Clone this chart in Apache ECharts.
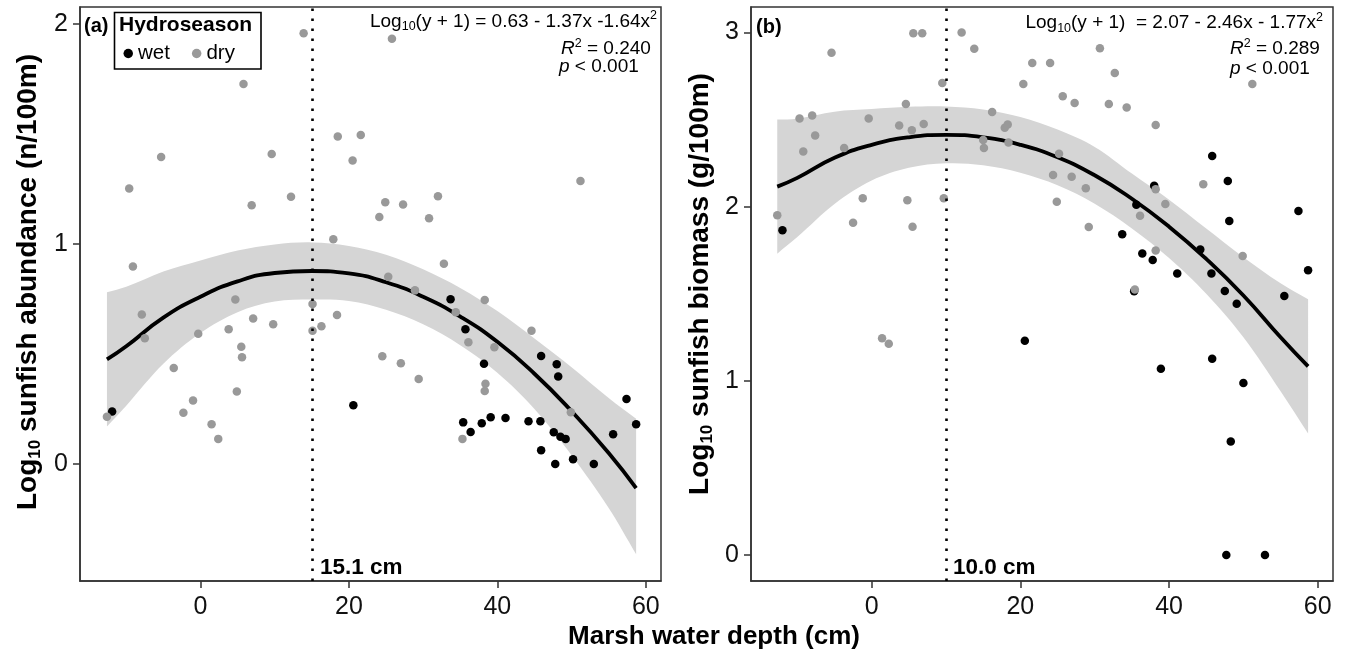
<!DOCTYPE html>
<html><head><meta charset="utf-8">
<script src="https://cdn.jsdelivr.net/npm/echarts@6/dist/echarts.min.js"></script>
<style>html,body{margin:0;padding:0;background:#fff}#c{width:1345px;height:657px}</style>
</head><body><div id="c"></div><script>
const FONT = '"Liberation Sans", Arial, Helvetica, sans-serif';

// ---- tick labels ----
const xTicks = [0, 20, 40, 60];
const yTicksA = [0, 1, 2];
const yTicksB = [0, 1, 2, 3];

// ---- panel (a): abundance ----
const wetA = [[-11.9,0.238],[20.6,0.267],[33.7,0.749],[35.7,0.612],[38.2,0.455],[35.4,0.189],[36.4,0.145],
  [37.9,0.185],[39.1,0.212],[41.1,0.209],[44.2,0.194],[45.8,0.194],[45.9,0.491],[48.0,0.453],[48.2,0.398],
  [47.6,0.144],[48.5,0.124],[49.2,0.114],[45.9,0.062],[47.8,0.0],[50.2,0.021],[53.0,0.0],[55.6,0.135],
  [57.4,0.295],[58.7,0.180]];
const dryA = [[13.9,1.958],[25.8,1.933],[5.8,1.727],[-5.3,1.395],[9.6,1.409],[18.5,1.488],[21.6,1.495],
  [20.5,1.379],[-9.6,1.252],[6.9,1.176],[12.2,1.214],[24.9,1.189],[27.3,1.179],[24.1,1.123],[30.8,1.117],
  [32.0,1.217],[17.9,1.021],[-9.1,0.898],[32.8,0.910],[25.3,0.851],[28.9,0.789],[4.7,0.748],[-7.9,0.679],
  [15.1,0.727],[18.4,0.677],[7.1,0.661],[9.8,0.635],[16.3,0.626],[3.8,0.612],[51.2,1.286],[34.4,0.690],
  [38.3,0.745],[44.6,0.605],[-7.5,0.571],[-12.6,0.215],[-3.6,0.436],[-0.3,0.592],[-1.0,0.288],[-2.3,0.233],
  [1.5,0.180],[2.4,0.114],[5.5,0.533],[5.6,0.485],[4.9,0.329],[15.1,0.606],[24.5,0.490],[27.0,0.458],
  [29.4,0.386],[36.1,0.553],[39.6,0.530],[38.4,0.365],[38.3,0.332],[35.3,0.114],[49.9,0.235]];
const fitXA  = [-12.6,-10,-5,0,5,10,15,20,25,30,35,40,45,50,55,58.7];
const fitYA  = [0.475,0.535,0.665,0.76,0.83,0.868,0.877,0.866,0.826,0.76,0.67,0.555,0.41,0.24,0.05,-0.11];
const bandLoA = [0.17,0.265,0.455,0.595,0.69,0.738,0.747,0.741,0.701,0.635,0.54,0.415,0.25,0.04,-0.20,-0.41];
const bandHiA = [0.78,0.805,0.875,0.925,0.97,0.998,1.007,0.991,0.951,0.885,0.80,0.695,0.57,0.44,0.30,0.205];

// ---- panel (b): biomass ----
const wetB = [[-12.0,1.865],[45.8,2.291],[47.9,2.147],[38.0,2.120],[57.4,1.975],[48.1,1.917],[35.6,2.011],
  [33.7,1.841],[36.4,1.731],[37.8,1.693],[41.1,1.616],[44.2,1.754],[45.7,1.616],[58.7,1.635],[35.3,1.515],
  [47.5,1.516],[55.5,1.487],[49.1,1.443],[20.6,1.230],[45.8,1.127],[38.9,1.069],[50.0,0.988],[48.3,0.652],
  [47.7,0.0],[52.9,0.0]];
const dryB = [[5.6,2.995],[6.8,2.995],[12.1,2.999],[-5.4,2.884],[13.8,2.907],[9.5,2.710],[20.4,2.704],
  [4.6,2.589],[-9.7,2.506],[-8.0,2.523],[-0.4,2.506],[3.7,2.466],[5.4,2.439],[7.0,2.474],[16.2,2.543],
  [17.9,2.453],[18.3,2.472],[-7.6,2.408],[-9.2,2.316],[-3.7,2.337],[15.0,2.382],[15.1,2.336],[18.4,2.368],
  [-12.7,1.950],[-1.2,2.048],[-2.5,1.907],[4.8,2.036],[5.5,1.884],[9.7,2.048],[30.7,2.909],[21.6,2.825],
  [24.0,2.825],[32.7,2.767],[51.2,2.704],[25.7,2.633],[27.3,2.595],[31.9,2.589],[34.3,2.569],[38.2,2.468],
  [25.2,2.303],[24.4,2.182],[26.9,2.172],[28.8,2.105],[24.9,2.028],[29.2,1.883],[38.2,2.100],[44.6,2.128],
  [39.5,2.015],[36.1,1.948],[38.2,1.748],[49.9,1.717],[35.4,1.525],[1.4,1.245],[2.3,1.213]];
const fitXB  = [-12.7,-10,-5,0,5,10,15,20,25,30,35,40,45,50,55,58.7];
const fitYB  = [2.115,2.165,2.28,2.355,2.398,2.412,2.398,2.355,2.283,2.18,2.045,1.885,1.70,1.49,1.25,1.083];
const bandLoB = [1.73,1.825,2.015,2.15,2.223,2.249,2.238,2.195,2.123,2.017,1.875,1.705,1.50,1.25,0.94,0.698];
const bandHiB = [2.50,2.505,2.545,2.56,2.573,2.575,2.558,2.515,2.443,2.343,2.19,2.04,1.875,1.71,1.56,1.468];

const optimumA = 15.1, optimumB = 10.0;

const AX = '#333';
function xAxis(gi) {
  return { type: 'value', gridIndex: gi, min: -16.23, max: 62.05,
    axisLine: { show: true, onZero: false, lineStyle: { color: AX, width: 1.5 } },
    axisTick: { show: true, customValues: xTicks, length: 7, lineStyle: { color: AX, width: 1.5 } },
    axisLabel: { customValues: xTicks, fontSize: 25, color: '#111', fontFamily: FONT, margin: 14 },
    splitLine: { show: false } };
}
function yAxis(gi, min, max, ticks) {
  return { type: 'value', gridIndex: gi, min: min, max: max,
    axisLine: { show: true, onZero: false, lineStyle: { color: AX, width: 1.5 } },
    axisTick: { show: true, customValues: ticks, length: 7, lineStyle: { color: AX, width: 1.5 } },
    axisLabel: { customValues: ticks, fontSize: 25, color: '#111', fontFamily: FONT, margin: 12 },
    splitLine: { show: false } };
}
function bandSeries(gi, xs, lo, hi) {
  return { type: 'custom', xAxisIndex: gi, yAxisIndex: gi, z: 1, silent: true,
    data: xs.map((x, i) => [x, lo[i], hi[i]]),
    encode: { x: 0, y: [1, 2] },
    renderItem: function (params, api) {
      if (params.dataIndex !== 0) return;
      const n = xs.length;
      const up = xs.map((x, i) => api.coord([x, hi[i]]));
      const dn = xs.map((x, i) => api.coord([x, lo[i]])).reverse();
      const p = [up[0], up[0]].concat(up.slice(1, n - 1), [up[n - 1], up[n - 1]],
                [dn[0], dn[0]], dn.slice(1, n - 1), [dn[n - 1], dn[n - 1]]);
      return { type: 'polygon', shape: { points: p, smooth: 0.35 }, style: { fill: '#d5d5d5', stroke: null } };
    } };
}
function fitSeries(gi, xs, ys) {
  return { type: 'line', xAxisIndex: gi, yAxisIndex: gi, smooth: true, symbol: 'none', z: 2, silent: true,
    lineStyle: { color: '#000', width: 3.8 }, data: xs.map((x, i) => [x, ys[i]]) };
}
function pts(gi, name, data, color, opt) {
  return { type: 'scatter', name: name, xAxisIndex: gi, yAxisIndex: gi, symbol: 'circle', symbolSize: 8.5,
    z: name === 'wet' ? 3 : 4, itemStyle: { color: color, opacity: 1 }, data: data,
    markLine: opt === undefined ? undefined : {
      silent: true, symbol: 'none', animation: false,
      lineStyle: { color: '#000', width: 2.6, type: [2.6, 7.4] },
      label: { show: false }, data: [{ xAxis: opt }] } };
}

const eqRich = {
  n: { fontSize: 19, fontFamily: FONT, color: '#111', lineHeight: 24 },
  i: { fontSize: 19, fontFamily: FONT, color: '#111', lineHeight: 24, fontStyle: 'italic' },
  sub: { fontSize: 12.5, fontFamily: FONT, color: '#111', lineHeight: 12.5, verticalAlign: 'bottom' },
  sup: { fontSize: 12.5, fontFamily: FONT, color: '#111', lineHeight: 12.5, verticalAlign: 'top' }
};
const ttlRich = {
  n: { fontSize: 28, fontWeight: 'bold', fontFamily: FONT, color: '#000', lineHeight: 32 },
  sub: { fontSize: 17, fontWeight: 'bold', fontFamily: FONT, color: '#000', lineHeight: 17, verticalAlign: 'bottom' }
};
function txt(x, y, text, rich, align) {
  return { type: 'text', silent: true, z: 50,
    style: { x: x, y: y, text: text, rich: rich, textAlign: align || 'left', textVerticalAlign: 'top' } };
}
// place plain text by its baseline
function plain(x, base, text, fs, bold, align) {
  return { type: 'text', silent: true, z: 50,
    style: { x: x, y: base - 0.85 * fs, text: text, font: (bold ? 'bold ' : '') + fs + 'px ' + FONT,
      fill: '#000', textAlign: align || 'left', textVerticalAlign: 'top' } };
}

const chart = echarts.init(document.getElementById('c'), null, { renderer: 'canvas' });
chart.setOption({
  animation: false,
  backgroundColor: '#fff',
  grid: [
    { left: 80, top: 7, width: 581, height: 574, show: true, borderColor: AX, borderWidth: 1.5, backgroundColor: 'transparent' },
    { left: 751, top: 7, width: 582, height: 574, show: true, borderColor: AX, borderWidth: 1.5, backgroundColor: 'transparent' }
  ],
  xAxis: [xAxis(0), xAxis(1)],
  yAxis: [yAxis(0, -0.532, 2.077, yTicksA), yAxis(1, -0.149, 3.146, yTicksB)],
  legend: { data: ['wet', 'dry'], left: 123.5, top: 43, z: 60, padding: 0, itemWidth: 9.5, itemHeight: 9.5, itemGap: 22,
    icon: 'circle', selectedMode: false,
    textStyle: { fontSize: 20.5, color: '#000', fontFamily: FONT } },
  series: [
    bandSeries(0, fitXA, bandLoA, bandHiA),
    fitSeries(0, fitXA, fitYA), pts(0, 'wet', wetA, '#000'), pts(0, 'dry', dryA, '#999999', optimumA),
    bandSeries(1, fitXB, bandLoB, bandHiB),
    fitSeries(1, fitXB, fitYB), pts(1, 'wet', wetB, '#000'), pts(1, 'dry', dryB, '#999999', optimumB)
  ],
  graphic: [
    { type: 'rect', silent: true, z: 40, shape: { x: 114.5, y: 12.5, width: 146.5, height: 56.5 },
      style: { fill: '#fff', stroke: '#000', lineWidth: 1.6 } },
    plain(119, 33, 'Hydroseason', 21, true),
    plain(84, 33, '(a)', 20, true),
    plain(756, 34, '(b)', 20, true),
    plain(320, 575, '15.1 cm', 22.5, true),
    plain(953, 575, '10.0 cm', 22.5, true),
    txt(657, 9.5, '{n|Log}{sub|10}{n|(y + 1) = 0.63 - 1.37x -1.64x}{sup|2}', eqRich, 'right'),
    txt(561, 37, '{i|R}{sup|2}{n| = 0.240}', eqRich, 'left'),
    txt(559, 55, '{i|p}{n| < 0.001}', eqRich, 'left'),
    txt(1323, 11, '{n|Log}{sub|10}{n|(y + 1)  = 2.07 - 2.46x - 1.77x}{sup|2}', eqRich, 'right'),
    txt(1230, 37, '{i|R}{sup|2}{n| = 0.289}', eqRich, 'left'),
    txt(1230, 57, '{i|p}{n| < 0.001}', eqRich, 'left'),
    { type: 'text', silent: true, z: 50, x: 28, y: 282, rotation: Math.PI / 2,
      style: { x: 0, y: 0, text: '{n|Log}{sub|10}{n| sunfish abundance (n/100m)}', rich: ttlRich, textAlign: 'center', textVerticalAlign: 'middle' } },
    { type: 'text', silent: true, z: 50, x: 700, y: 284, rotation: Math.PI / 2,
      style: { x: 0, y: 0, text: '{n|Log}{sub|10}{n| sunfish biomass (g/100m)}', rich: ttlRich, textAlign: 'center', textVerticalAlign: 'middle' } },
    plain(714, 646, 'Marsh water depth (cm)', 26, true, 'center')
  ]
});
</script></body></html>
